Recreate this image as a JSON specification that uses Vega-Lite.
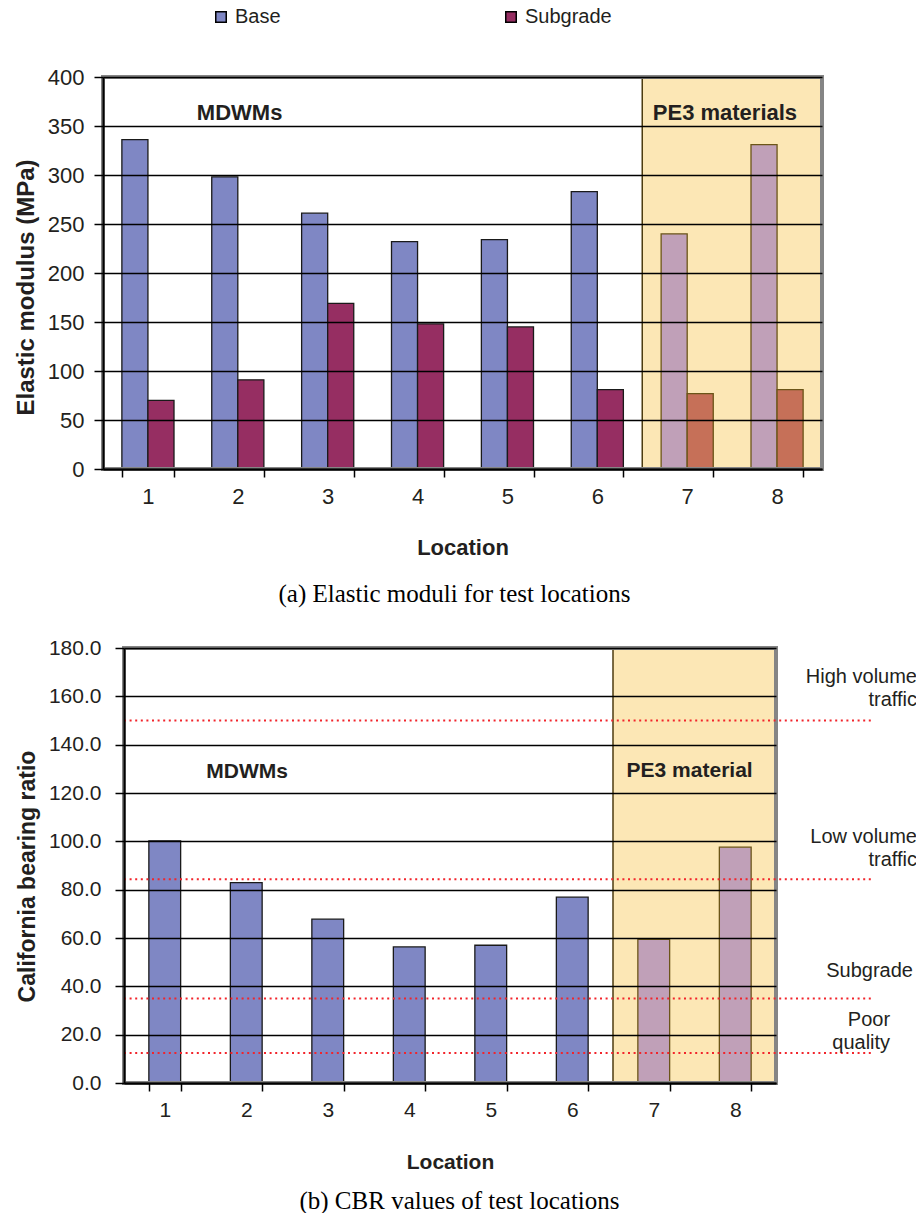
{
  "$schema": "https://vega.github.io/schema/vega-lite/v6.json",
  "padding": {"left": 14, "top": 7, "right": 0, "bottom": 0},
  "spacing": 30,
  "config": {
    "view": {"stroke": null},
    "font": "Liberation Sans",
    "axis": {"labelFont": "Liberation Sans", "titleFont": "Liberation Sans", "labelColor": "#231F20", "titleColor": "#231F20", "domainColor": "#000000", "tickColor": "#000000", "gridColor": "#000000"},
    "text": {"font": "Liberation Sans"}
  },
  "resolve": {"scale": {"color": "independent"}, "legend": {"color": "independent"}},
  "vconcat": [
    {
      "width": 719,
      "height": 392,
      "title": {"text": "(a)  Elastic moduli for test locations", "orient": "bottom", "anchor": "middle", "font": "Liberation Serif", "fontSize": 25, "fontWeight": "normal", "color": "#000000", "offset": 24, "dx": -8},
      "layer": [
        {
          "data": {"values": [{"x0": 6, "x1": 8, "y0": 0, "y1": 400}]},
          "mark": {"type": "rect", "fill": "#F9C95A", "fillOpacity": 0.45, "stroke": "#4D3D10", "strokeWidth": 1.5},
          "encoding": {
            "x": {"field": "x0", "type": "quantitative", "scale": {"domain": [0, 8]}, "axis": null},
            "x2": {"field": "x1"},
            "y": {"field": "y0", "type": "quantitative", "scale": {"domain": [0, 400]}},
            "y2": {"field": "y1"}
          }
        },
        {
          "data": {"values": [
            {"Location": "1", "Series": "Base", "Material": "MDWM", "E": 336},
            {"Location": "1", "Series": "Subgrade", "Material": "MDWM", "E": 70},
            {"Location": "2", "Series": "Base", "Material": "MDWM", "E": 298},
            {"Location": "2", "Series": "Subgrade", "Material": "MDWM", "E": 91},
            {"Location": "3", "Series": "Base", "Material": "MDWM", "E": 261},
            {"Location": "3", "Series": "Subgrade", "Material": "MDWM", "E": 169},
            {"Location": "4", "Series": "Base", "Material": "MDWM", "E": 232},
            {"Location": "4", "Series": "Subgrade", "Material": "MDWM", "E": 148},
            {"Location": "5", "Series": "Base", "Material": "MDWM", "E": 234},
            {"Location": "5", "Series": "Subgrade", "Material": "MDWM", "E": 145},
            {"Location": "6", "Series": "Base", "Material": "MDWM", "E": 283},
            {"Location": "6", "Series": "Subgrade", "Material": "MDWM", "E": 81},
            {"Location": "7", "Series": "Base", "Material": "PE3", "E": 240},
            {"Location": "7", "Series": "Subgrade", "Material": "PE3", "E": 77},
            {"Location": "8", "Series": "Base", "Material": "PE3", "E": 331},
            {"Location": "8", "Series": "Subgrade", "Material": "PE3", "E": 81}
          ]},
          "transform": [{"calculate": "datum.Material === 'PE3' ? datum.Series + ' (PE3)' : datum.Series", "as": "Key"}],
          "mark": {"type": "bar", "strokeWidth": 1.3},
          "encoding": {
            "x": {"field": "Location", "type": "ordinal", "scale": {"paddingInner": 0.42, "paddingOuter": 0.21},
              "axis": {"title": "Location", "titleFontSize": 22, "titleFontWeight": "bold", "labelFontSize": 22, "labelAngle": 0, "tickBand": "extent", "tickSize": 8, "tickWidth": 1.5, "domainWidth": 2, "labelPadding": 9, "titlePadding": 30, "grid": false, "zindex": 1}},
            "xOffset": {"field": "Series", "scale": {"paddingInner": 0, "paddingOuter": 0}},
            "y": {"field": "E", "type": "quantitative", "scale": {"domain": [0, 400]},
              "axis": {"title": "Elastic modulus (MPa)", "titleFontSize": 24, "titleFontWeight": "bold", "titleY": 210, "labelFontSize": 22, "values": [0, 50, 100, 150, 200, 250, 300, 350, 400], "grid": true, "gridWidth": 1.3, "tickSize": 9, "tickWidth": 1.5, "domainWidth": 2, "labelPadding": 10, "titlePadding": 9, "zindex": 1}},
            "color": {"field": "Key", "type": "nominal",
              "scale": {"domain": ["Base", "Subgrade", "Base (PE3)", "Subgrade (PE3)"], "range": ["#7F87C4", "#962E62", "#C0A0B8", "#C67058"]},
              "legend": {"values": ["Base", "Subgrade"], "title": null, "orient": "none", "legendX": 108, "legendY": -70, "direction": "horizontal", "symbolType": "square", "symbolSize": 110, "symbolStrokeColor": "#000000", "symbolStrokeWidth": 1.5, "labelFontSize": 20, "labelFont": "Liberation Sans", "labelColor": "#231F20", "columnPadding": 220, "labelOffset": 4}},
            "stroke": {"condition": {"test": "datum.Material === 'PE3'", "value": "#6B5518"}, "value": "#1A1A1A"}
          }
        },
        {
          "data": {"values": [{"x0": 0, "x1": 8, "y0": 0, "y1": 400}]},
          "mark": {"type": "rect", "fill": null, "filled": false, "stroke": "#858585", "strokeWidth": 4},
          "encoding": {
            "x": {"field": "x0", "type": "quantitative", "scale": {"domain": [0, 8]}, "axis": null},
            "x2": {"field": "x1"},
            "y": {"field": "y0", "type": "quantitative"},
            "y2": {"field": "y1"}
          }
        },
        {
          "data": {"values": [{"label": "MDWMs", "x": 1.52, "y": 363}, {"label": "PE3 materials", "x": 6.92, "y": 363}]},
          "mark": {"type": "text", "fontSize": 22, "fontWeight": "bold", "color": "#231F20", "baseline": "middle", "align": "center"},
          "encoding": {
            "x": {"field": "x", "type": "quantitative", "scale": {"domain": [0, 8]}, "axis": null},
            "y": {"field": "y", "type": "quantitative"},
            "text": {"field": "label"}
          }
        }
      ],
      "resolve": {"scale": {"x": "independent"}}
    },
    {
      "width": 673,
      "height": 435,
      "title": {"text": "(b) CBR values of test locations", "orient": "bottom", "anchor": "middle", "font": "Liberation Serif", "fontSize": 25, "fontWeight": "normal", "color": "#000000", "offset": 17, "dx": 20},
      "layer": [
        {
          "data": {"values": [{"x0": 6, "x1": 8, "y0": 0, "y1": 180}]},
          "mark": {"type": "rect", "fill": "#F9C95A", "fillOpacity": 0.45, "stroke": "#4D3D10", "strokeWidth": 1.5},
          "encoding": {
            "x": {"field": "x0", "type": "quantitative", "scale": {"domain": [0, 8], "range": [21, 673]}, "axis": null},
            "x2": {"field": "x1"},
            "y": {"field": "y0", "type": "quantitative", "scale": {"domain": [0, 180]}},
            "y2": {"field": "y1"}
          }
        },
        {
          "data": {"values": [
            {"Location": "1", "Material": "MDWM", "CBR": 100.2},
            {"Location": "2", "Material": "MDWM", "CBR": 82.9},
            {"Location": "3", "Material": "MDWM", "CBR": 67.8},
            {"Location": "4", "Material": "MDWM", "CBR": 56.3},
            {"Location": "5", "Material": "MDWM", "CBR": 57.0},
            {"Location": "6", "Material": "MDWM", "CBR": 76.9},
            {"Location": "7", "Material": "PE3", "CBR": 59.4},
            {"Location": "8", "Material": "PE3", "CBR": 97.6}
          ]},
          "mark": {"type": "bar", "strokeWidth": 1.3},
          "encoding": {
            "x": {"field": "Location", "type": "ordinal", "scale": {"range": [21, 673], "paddingInner": 0.61, "paddingOuter": 0.305},
              "axis": {"title": "Location", "titleFontSize": 21, "titleFontWeight": "bold", "labelFontSize": 21, "labelAngle": 0, "tickBand": "extent", "tickSize": 8, "tickWidth": 1.5, "domainWidth": 2, "labelPadding": 8, "titlePadding": 31, "grid": false, "zindex": 1}},
            "y": {"field": "CBR", "type": "quantitative", "scale": {"domain": [0, 180]},
              "axis": {"title": "California bearing ratio", "titleFontSize": 23, "titleFontWeight": "bold", "titleY": 228, "labelFontSize": 21, "format": ".1f", "values": [0, 20, 40, 60, 80, 100, 120, 140, 160, 180], "grid": true, "gridWidth": 1.3, "tickSize": 9, "tickWidth": 1.5, "domainWidth": 2, "labelPadding": 14, "titlePadding": 9, "offset": -21, "zindex": 1}},
            "fill": {"condition": {"test": "datum.Material === 'PE3'", "value": "#C0A0B8"}, "value": "#7F87C4"},
            "stroke": {"condition": {"test": "datum.Material === 'PE3'", "value": "#6B5518"}, "value": "#1A1A1A"}
          }
        },
        {
          "data": {"values": [{"x0": 0, "x1": 8, "y0": 0, "y1": 180}]},
          "mark": {"type": "rect", "fill": null, "filled": false, "stroke": "#858585", "strokeWidth": 4},
          "encoding": {
            "x": {"field": "x0", "type": "quantitative", "scale": {"domain": [0, 8], "range": [21, 673]}, "axis": null},
            "x2": {"field": "x1"},
            "y": {"field": "y0", "type": "quantitative"},
            "y2": {"field": "y1"}
          }
        },
        {
          "data": {"values": [{"level": 150}, {"level": 84.3}, {"level": 35}, {"level": 12.4}]},
          "mark": {"type": "rule", "color": "#F2242B", "strokeWidth": 2, "strokeDash": [2, 3.6]},
          "encoding": {
            "x": {"datum": 0, "type": "quantitative", "scale": {"domain": [0, 8], "range": [21, 673]}, "axis": null},
            "x2": {"datum": 9.2},
            "y": {"field": "level", "type": "quantitative"}
          }
        },
        {
          "data": {"values": [
            {"label": "High volume", "x": 9.73, "y": 168.2},
            {"label": "traffic", "x": 9.73, "y": 158.3},
            {"label": "Low volume", "x": 9.73, "y": 102},
            {"label": "traffic", "x": 9.73, "y": 92.1},
            {"label": "Subgrade", "x": 9.68, "y": 46.3},
            {"label": "Poor", "x": 9.4, "y": 26},
            {"label": "quality", "x": 9.4, "y": 16.5}
          ]},
          "mark": {"type": "text", "fontSize": 20, "color": "#231F20", "baseline": "middle", "align": "right"},
          "encoding": {
            "x": {"field": "x", "type": "quantitative", "scale": {"domain": [0, 8], "range": [21, 673]}, "axis": null},
            "y": {"field": "y", "type": "quantitative"},
            "text": {"field": "label"}
          }
        },
        {
          "data": {"values": [{"label": "MDWMs", "x": 1.51, "y": 128.5}, {"label": "PE3 material", "x": 6.94, "y": 129.3}]},
          "mark": {"type": "text", "fontSize": 21, "fontWeight": "bold", "color": "#231F20", "baseline": "middle", "align": "center"},
          "encoding": {
            "x": {"field": "x", "type": "quantitative", "scale": {"domain": [0, 8], "range": [21, 673]}, "axis": null},
            "y": {"field": "y", "type": "quantitative"},
            "text": {"field": "label"}
          }
        }
      ],
      "resolve": {"scale": {"x": "independent"}}
    }
  ]
}
